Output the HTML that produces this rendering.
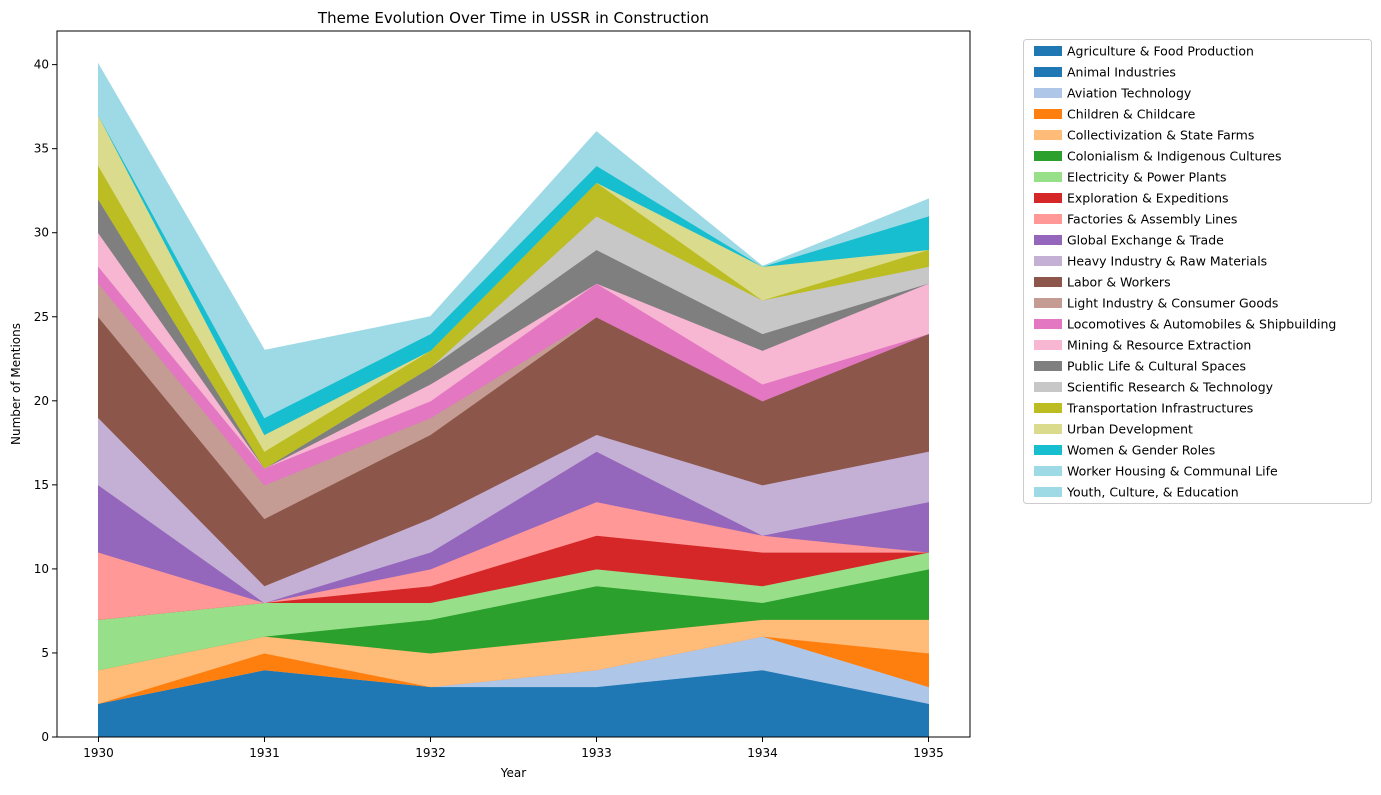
<!DOCTYPE html>
<html><head><meta charset="utf-8">
<style>
body{margin:0;background:#fff;font-family:"Liberation Sans","DejaVu Sans",sans-serif;}
svg text{font-family:"DejaVu Sans","Liberation Sans",sans-serif;}
</style></head>
<body>
<svg id="chart" width="1381" height="790" xmlns="http://www.w3.org/2000/svg">
<rect width="1381" height="790" fill="#fff"/>
<g id="areas"></g>
<g id="axes"></g>
<g id="legend"></g>
</svg>
<script>
const years = [1930,1931,1932,1933,1934,1935];
const seriesNames = ["Agriculture & Food Production","Animal Industries","Aviation Technology","Children & Childcare","Collectivization & State Farms","Colonialism & Indigenous Cultures","Electricity & Power Plants","Exploration & Expeditions","Factories & Assembly Lines","Global Exchange & Trade","Heavy Industry & Raw Materials","Labor & Workers","Light Industry & Consumer Goods","Locomotives & Automobiles & Shipbuilding","Mining & Resource Extraction","Public Life & Cultural Spaces","Scientific Research & Technology","Transportation Infrastructures","Urban Development","Women & Gender Roles","Worker Housing & Communal Life","Youth, Culture, & Education"];
const agriculture = [2,4,3,3,4,2];
const animal = [0,0,0,0,0,0];
const aviation = [0,0,0,1,2,1];
const children = [0,1,0,0,0,2];
const collectivization = [2,1,2,2,1,2];
const colonialism = [0,0,2,3,1,3];
const electricity = [3,2,1,1,1,1];
const exploration = [0,0,1,2,2,0];
const factories = [4,0,1,2,1,0];
const globalTrade = [4,0,1,3,0,3];
const heavy = [4,1,2,1,3,3];
const labor = [6,4,5,7,5,7];
const light = [2,2,1,0,0,0];
const locomotives = [1,1,1,2,1,0];
const mining = [2,0,1,0,2,3];
const publicLife = [2,0,1,2,1,0];
const scientific = [0,0,0,2,2,1];
const transport = [2,1,1,2,0,1];
const urban = [3,1,0,0,2,0];
const women = [0,1,1,1,0,2];
const workerHousing = [1,2,0,1,0,0];
const youth = [2,2,1,1,0,1];
const seriesValues = [agriculture,animal,aviation,children,collectivization,colonialism,electricity,exploration,factories,globalTrade,heavy,labor,light,locomotives,mining,publicLife,scientific,transport,urban,women,workerHousing,youth];
const colors = ["#1f77b4","#1f77b4","#aec7e8","#ff7f0e","#ffbb78","#2ca02c","#98df8a","#d62728","#ff9896","#9467bd","#c5b0d5","#8c564b","#c49c94","#e377c2","#f7b6d2","#7f7f7f","#c7c7c7","#bcbd22","#dbdb8d","#17becf","#9edae5","#9edae5"];
const yTicks = [0,5,10,15,20,25,30,35,40];

const NS="http://www.w3.org/2000/svg";
const L=57,R=970,T=31,B=737;
const xMin=1929.75,xMax=1935.25,yMin=0,yMax=42;
const xs=v=>L+(v-xMin)/(xMax-xMin)*(R-L);
const ys=v=>B-(v-yMin)/(yMax-yMin)*(B-T);
function mk(tag,attrs,parent){const e=document.createElementNS(NS,tag);for(const k in attrs)e.setAttribute(k,attrs[k]);parent.appendChild(e);return e;}

const areas=document.getElementById('areas');
let base=years.map(()=>0);
seriesValues.forEach((vals,i)=>{
  const top=base.map((b,j)=>b+vals[j]);
  let d="M"+years.map((y,j)=>xs(y)+","+ys(top[j])).join(" L");
  for(let j=years.length-1;j>=0;j--) d+=" L"+xs(years[j])+","+ys(base[j]);
  d+=" Z";
  const p=mk('path',{d:d,fill:colors[i],stroke:colors[i],'stroke-width':1},areas);
  
  
  base=top;
});

const axes=document.getElementById('axes');
const frame=mk('rect',{x:L,y:T,width:R-L,height:B-T,fill:'none',stroke:'#000','stroke-width':1},axes);


years.forEach(y=>{
  mk('line',{x1:xs(y),x2:xs(y),y1:B,y2:B+5,stroke:'#000'},axes);
  const t=mk('text',{x:xs(y),y:B+20,'text-anchor':'middle','font-size':12},axes);
  t.textContent=y;
  
  
});
yTicks.forEach(v=>{
  mk('line',{x1:L-5,x2:L,y1:ys(v),y2:ys(v),stroke:'#000'},axes);
  const t=mk('text',{x:L-8,y:ys(v)+4,'text-anchor':'end','font-size':12},axes);
  t.textContent=v;
  
  
});
const title=mk('text',{x:(L+R)/2,y:23,'text-anchor':'middle','font-size':15},axes);
title.textContent="Theme Evolution Over Time in USSR in Construction";


const xl=mk('text',{x:(L+R)/2,y:777,'text-anchor':'middle','font-size':12},axes);
xl.textContent="Year";


const yl=mk('text',{x:20,y:(T+B)/2,'text-anchor':'middle','font-size':12,transform:'rotate(-90 20 '+((T+B)/2)+')'},axes);
yl.textContent="Number of Mentions";



const lg=document.getElementById('legend');
const box=mk('rect',{x:1023.5,y:39.5,width:348,height:464,rx:3,fill:'#fff',stroke:'#ccc'},lg);


seriesNames.forEach((n,i)=>{
  const y=51+i*21;
  const g=mk('g',{},lg);
  
  
  mk('rect',{x:1034,y:y-5,width:28,height:10,fill:colors[i]},g);
  const t=mk('text',{x:1067,y:y+4.5,'font-size':12.5},g);
  t.textContent=n;
});
</script>
</body></html>
